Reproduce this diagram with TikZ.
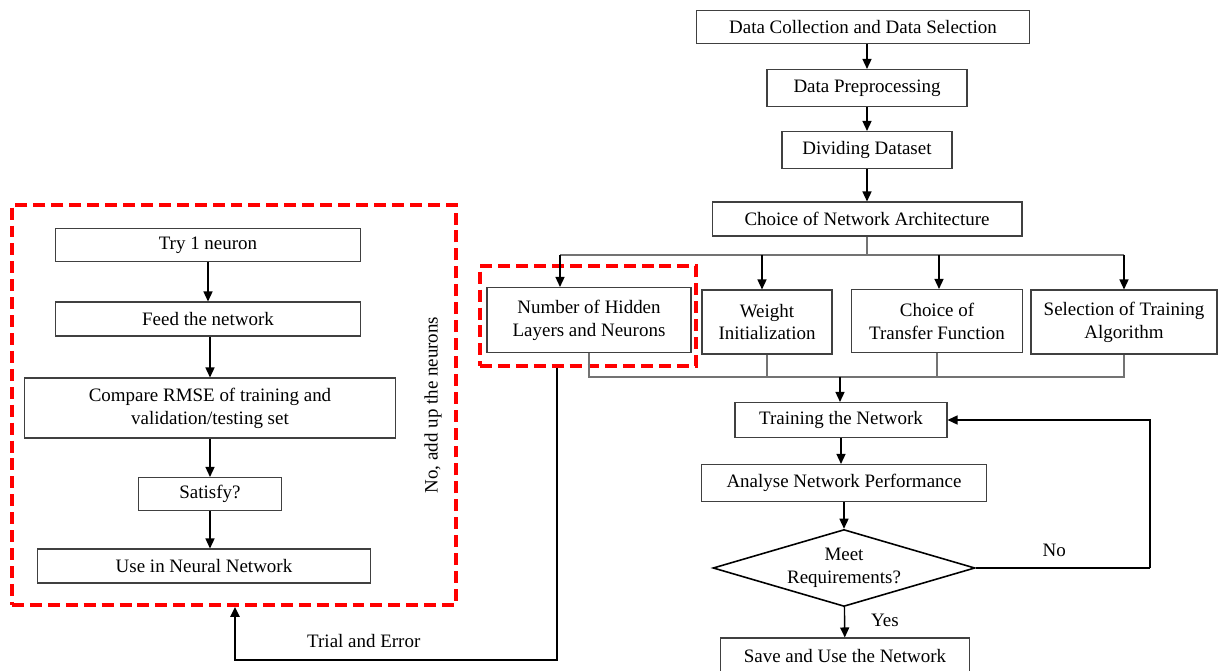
\documentclass[tikz,border=0pt]{standalone}
\usepackage{fontspec}
\setmainfont{Liberation Serif}
\usetikzlibrary{arrows.meta,positioning,shapes.geometric}

\begin{document}
\begin{tikzpicture}[
  x=0.02cm, y=-0.02cm,
  font=\fontsize{10.8}{13}\selectfont,
  box/.style={draw=black!75, line width=0.6pt, align=center, inner sep=1mm},
  dec/.style={draw=black, line width=0.9pt, diamond, aspect=3.4, align=center, inner sep=0pt},
  frame/.style={draw=red, line width=2.3pt, dash pattern=on 6.8pt off 3.4pt},
  arr/.style={line width=0.8pt, -{Triangle[length=2mm,width=1.8mm]}},
  ln/.style={draw=black!55, line width=0.6pt}
]
  \useasboundingbox (0,0) rectangle (1218,671);

  % main flow (right)
  \node[box, minimum width=6.66cm, minimum height=0.66cm] (dcol) at (863,27) {Data Collection and Data Selection};
  \node[box, minimum width=4.0cm, minimum height=0.74cm] (prep) at (867,88) {Data Preprocessing};
  \node[box, minimum width=3.4cm, minimum height=0.74cm] (divd) at (867,150) {Dividing Dataset};
  \node[box, minimum width=6.2cm, minimum height=0.68cm] (arch) at (867,219) {Choice of Network Architecture};

  \node[box, minimum width=4.08cm, minimum height=1.3cm] (hid) at (589,320) {Number of Hidden\\ Layers and Neurons};
  \node[box, minimum width=2.6cm, minimum height=1.28cm] (wgt) at (767,322) {Weight\\ Initialization};
  \node[box, minimum width=3.42cm, minimum height=1.26cm] (tf) at (937,321) {Choice of\\ Transfer Function};
  \node[box, minimum width=3.72cm, minimum height=1.28cm] (sel) at (1124,322) {Selection of Training\\ Algorithm};

  \node[box, minimum width=4.24cm, minimum height=0.7cm] (train) at (841,420) {Training the Network};
  \node[box, minimum width=5.7cm, minimum height=0.74cm] (anal) at (844,483) {Analyse Network Performance};
  \node[dec, minimum width=5.24cm, minimum height=1.54cm] (meet) at (844,568) {Meet\\ Requirements?};
  \node[box, minimum width=4.98cm, minimum height=0.72cm] (save) at (845,656) {Save and Use the Network};

  % trial and error (left)
  \node[box, minimum width=6.1cm, minimum height=0.66cm] (try) at (208,245) {Try 1 neuron};
  \node[box, minimum width=6.1cm, minimum height=0.68cm] (feed) at (208,319) {Feed the network};
  \node[box, minimum width=7.44cm, minimum height=1.2cm] (cmp) at (210,408) {Compare RMSE of training and\\ validation/testing set};
  \node[box, minimum width=2.86cm, minimum height=0.66cm] (sat) at (210,494) {Satisfy?};
  \node[box, minimum width=6.66cm, minimum height=0.68cm] (use) at (204,566) {Use in Neural Network};

  \node[frame, minimum width=8.88cm, minimum height=8.0cm] (outer) at (234,405) {};
  \node[frame, minimum width=4.32cm, minimum height=2.0cm] (inner) at (588,316) {};
  \node[rotate=90] (addup) at (433,405) {No, add up the neurons};

  \coordinate (split) at (867,255);
  \coordinate (join) at (840,377);
  \coordinate (loop) at (1150,568);
  \coordinate (trial) at (557,660);

  \draw[arr] (prep.north |- dcol.south) -- (prep.north);
  \draw[arr] (divd.north |- prep.south) -- (divd.north);
  \draw[arr] (arch.north |- divd.south) -- (arch.north);

  \draw[ln] (arch.south -| split) -- (split);
  \draw[ln] (split -| 560,0) -- (split -| sel);
  \draw[arr] (split -| 560,0) -- (hid.north -| 560,0);
  \draw[arr] (split -| 762,0) -- (wgt.north -| 762,0);
  \draw[arr] (split -| 939,0) -- (tf.north -| 939,0);
  \draw[arr] (split -| sel) -- (sel.north);

  \draw[ln] (hid.south) -- (join -| hid) -- (join -| sel) -- (sel.south);
  \draw[ln] (wgt.south) -- (join -| wgt);
  \draw[ln] (tf.south) -- (join -| tf);
  \draw[arr] (join) -- (train.north -| join);

  \draw[arr] (train) -- (anal.north -| train);
  \draw[arr] (anal) -- (meet);
  \draw[arr] (meet) -- node[right=4mm, pos=0.45]{Yes} (save);
  \draw[line width=0.8pt] (meet.east) -- node[pos=0.45, above=1mm]{No} (loop);
  \draw[arr] (loop) |- (train.east);

  \draw[arr] (try) -- (feed);
  \draw[arr] (feed.south -| cmp) -- (cmp);
  \draw[arr] (cmp) -- (sat);
  \draw[arr] (sat.south -| use.north -| sat) -- (use.north -| sat);

  \draw[arr, line width=1.4pt] (inner.south -| trial) -- (trial)
    -- node[above=1mm, pos=0.6]{Trial and Error} (trial -| 235,0) -- (outer.south -| 235,0);
\end{tikzpicture}
\end{document}
